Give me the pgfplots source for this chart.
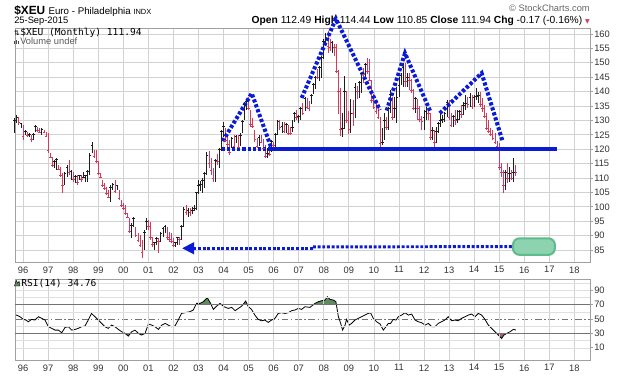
\documentclass[border=0pt]{standalone}
\usepackage{fontspec}
\setmainfont{Liberation Sans}
\setmonofont{DejaVu Sans Mono}
\newfontfamily\dejavu{DejaVu Sans}
\usepackage{pgfplots}
\usepackage{pgfplotstable}
\pgfplotsset{compat=1.18}
\usetikzlibrary{arrows.meta}

\definecolor{barred}{HTML}{D43A5C}
\definecolor{barblack}{HTML}{1E1E1E}
\definecolor{annblue}{HTML}{0A1AD6}
\definecolor{gridc}{HTML}{D2D2D2}
\definecolor{framec}{HTML}{A0A0A0}
\definecolor{labc}{HTML}{333333}
\definecolor{rsigreen}{HTML}{5F8C5F}
\definecolor{rsired}{HTML}{A85868}
\definecolor{boxfill}{HTML}{8ED3B0}
\definecolor{boxedge}{HTML}{5DBB8C}

\pgfplotstableread{
m lo hi c u
-4 125.5 130.8 130.0 1
-3 129.0 131.9 131.0 1
-2 128.4 131.3 129.2 0
-1 127.3 129.0 128.8 1
0 123.2 128.4 124.5 0
1 124.9 126.7 126.0 1
2 124.4 126.1 124.8 0
3 124.4 125.7 125.2 1
4 122.6 124.9 123.5 0
5 123.2 125.5 125.0 1
6 126.1 128.4 127.8 1
7 126.1 127.8 126.6 0
8 125.5 127.3 125.9 0
9 124.9 127.3 126.9 1
10 125.5 126.7 125.8 0
11 124.4 126.1 124.6 0
12 118.6 125.5 119.5 0
13 116.8 118.6 117.2 0
14 113.9 117.4 114.3 0
15 113.4 116.3 115.6 1
16 112.8 116.8 116.3 1
17 112.8 114.5 113.0 0
18 110.5 113.9 111.0 0
19 104.7 111.6 107.5 0
20 107.6 112.2 111.5 1
21 110.5 114.5 113.6 1
22 111.1 116.3 112.0 0
23 109.3 112.8 112.3 1
24 108.7 112.2 109.5 0
25 108.2 111.1 110.5 1
26 107.6 111.1 108.5 0
27 109.3 111.1 110.8 1
28 108.7 111.1 109.5 0
29 109.9 112.2 110.2 1
30 108.7 111.1 110.8 1
31 108.7 112.8 112.3 1
32 111.1 118.6 118.0 1
33 118.6 122.6 121.3 1
34 116.8 119.7 117.6 0
35 115.1 119.7 115.6 0
36 111.1 116.0 111.6 0
37 109.9 111.6 110.3 0
38 107.0 109.3 107.5 0
39 105.8 108.2 106.2 0
40 104.1 107.0 104.5 0
41 102.9 105.8 103.4 0
42 101.8 107.6 106.8 1
43 105.8 108.2 107.6 1
44 104.7 109.3 105.3 0
45 105.8 107.6 107.3 1
46 102.4 105.8 102.9 0
47 100.1 102.4 100.6 0
48 98.9 101.2 99.3 0
49 97.2 100.6 97.6 0
50 96.0 97.7 96.3 0
51 90.8 96.0 91.4 0
52 89.1 94.3 93.6 1
53 93.1 96.6 95.8 1
54 89.6 93.1 90.2 0
55 87.9 90.8 88.3 0
56 86.2 90.2 86.7 0
57 82.1 88.5 84.0 0
58 85.0 91.9 91.2 1
59 92.0 96.0 94.8 1
60 92.0 95.5 93.2 0
61 88.5 94.8 89.5 0
62 86.2 89.6 86.8 0
63 85.0 87.9 87.5 1
64 86.7 89.6 89.0 1
65 83.8 89.1 88.0 0
66 87.9 91.4 90.6 1
67 89.6 93.1 92.4 1
68 90.8 93.7 93.2 1
69 88.5 93.1 89.5 0
70 87.9 91.4 88.5 0
71 87.3 90.8 87.9 0
72 86.2 89.1 86.6 0
73 86.2 87.9 87.6 1
74 86.7 89.6 89.2 1
75 86.6 89.5 88.7 0
76 88.5 93.7 93.3 1
77 93.0 100.0 99.2 1
78 97.2 100.6 97.9 0
79 96.5 99.5 98.8 1
80 96.8 99.5 98.0 0
81 97.5 99.8 98.9 1
82 98.5 100.5 99.3 1
83 98.9 105.3 104.9 1
84 104.5 109.3 107.5 1
85 105.5 109.0 107.8 1
86 104.8 110.0 109.0 1
87 106.5 112.0 111.5 1
88 111.0 119.0 118.0 1
89 113.5 119.3 115.0 0
90 111.0 117.0 112.5 0
91 108.5 113.5 110.0 0
92 108.5 116.5 116.2 1
93 114.5 118.5 115.8 0
94 113.5 120.5 120.0 1
95 119.5 126.5 126.0 1
96 124.4 129.6 128.0 1
97 122.6 127.2 123.2 0
98 120.9 124.9 121.5 0
99 118.0 123.2 119.0 0
100 120.3 124.4 123.8 1
101 120.3 124.9 121.0 0
102 122.0 124.9 124.5 1
103 119.7 124.9 120.5 0
104 121.0 125.5 124.8 1
105 125.5 130.1 129.6 1
106 130.1 135.9 135.4 1
107 133.6 137.1 136.5 1
108 133.6 138.2 134.2 0
109 127.8 133.6 128.5 0
110 127.2 130.7 127.8 0
111 122.6 126.7 123.3 0
112 120.3 123.8 121.0 0
113 121.0 124.9 124.2 1
114 122.0 124.9 122.5 0
115 119.5 123.5 120.2 0
116 116.8 121.5 117.5 0
117 116.8 120.3 118.5 1
118 117.8 121.0 118.2 0
119 119.1 123.2 122.8 1
120 119.5 122.5 121.2 0
121 120.9 125.5 125.0 1
122 124.9 130.1 129.5 1
123 126.7 130.1 127.5 0
124 125.7 129.6 128.0 1
125 125.5 129.6 126.2 0
126 125.5 129.0 128.5 1
127 124.9 128.4 125.5 0
128 124.9 127.8 125.3 0
129 126.0 130.0 127.5 1
130 129.6 133.0 132.5 1
131 130.1 133.6 131.0 0
132 129.0 131.9 131.5 1
133 130.1 134.8 134.0 1
134 131.9 135.9 132.5 0
135 133.3 138.2 137.6 1
136 133.9 137.9 134.5 0
137 133.3 136.7 134.0 0
138 135.6 139.0 138.6 1
139 139.0 143.1 142.6 1
140 140.8 145.4 144.9 1
141 144.3 147.7 144.8 0
142 143.7 148.9 148.3 1
143 144.8 152.4 151.8 1
144 151.2 158.1 157.5 1
145 155.8 160.5 158.0 1
146 153.5 161.0 155.8 0
147 154.1 158.1 155.5 0
148 153.5 157.6 157.2 1
149 152.4 156.4 155.5 0
150 146.6 156.4 147.0 0
151 132.1 147.5 140.0 0
152 124.6 141.4 127.0 0
153 124.4 132.7 127.2 1
154 126.9 145.4 140.0 1
155 129.2 140.2 130.0 0
156 125.2 133.3 126.8 0
157 125.5 137.3 132.5 1
158 128.1 137.0 132.3 0
159 131.0 143.1 141.5 1
160 137.3 142.0 140.2 0
161 137.9 143.7 143.2 1
162 139.6 146.6 146.3 1
163 143.1 148.3 146.0 0
164 144.3 150.0 149.5 1
165 146.0 151.8 147.0 0
166 143.7 151.2 143.9 0
167 136.2 144.0 137.0 0
168 133.9 139.0 134.5 0
169 132.1 136.7 133.0 0
170 130.4 135.0 131.0 0
171 120.3 131.3 122.0 0
172 121.5 127.5 122.3 1
173 123.2 132.4 130.0 1
174 126.7 131.3 127.5 0
175 126.7 134.8 134.0 1
176 132.5 140.6 139.0 1
177 130.1 138.2 131.0 0
178 131.0 138.2 134.0 1
179 129.0 141.7 138.0 1
180 138.2 145.2 142.0 1
181 142.3 146.4 145.5 1
182 141.7 149.8 148.5 1
183 141.7 149.8 143.5 0
184 141.7 146.4 145.0 1
185 140.6 146.4 143.8 0
186 139.5 144.5 140.5 0
187 133.6 141.0 134.2 0
188 132.5 138.2 137.5 1
189 130.1 137.5 134.0 0
190 129.6 135.0 130.5 0
191 126.7 131.5 129.6 0
192 126.7 133.6 131.0 1
193 130.1 134.8 133.0 1
194 130.1 133.5 132.3 0
195 123.2 132.5 124.0 0
196 123.2 127.8 126.5 1
197 120.9 126.7 122.5 0
198 122.0 127.8 126.0 1
199 125.5 129.6 129.0 1
200 127.8 132.5 130.0 1
201 129.0 132.0 130.5 1
202 129.6 133.0 132.5 1
203 131.3 137.1 136.2 1
204 130.1 137.1 131.0 0
205 127.8 132.5 128.2 0
206 127.8 131.9 131.5 1
207 128.4 133.6 130.0 0
208 129.0 133.6 130.2 1
209 130.1 133.6 133.0 1
210 130.7 135.4 132.2 0
211 131.9 136.5 135.2 1
212 133.6 138.8 136.0 1
213 134.2 138.2 135.5 0
214 134.8 139.4 137.8 1
215 133.9 138.8 134.8 0
216 134.5 138.8 138.0 1
217 137.1 141.1 138.2 1
218 135.9 140.0 138.5 1
219 134.8 140.0 135.5 0
220 133.0 137.7 134.0 0
221 130.7 135.4 131.2 0
222 126.7 132.5 127.2 0
223 125.5 130.1 126.0 0
224 124.5 127.5 125.2 0
225 123.2 126.7 123.8 0
226 122.0 125.5 122.3 0
227 119.5 123.0 121.0 0
228 112.8 122.0 113.5 0
229 110.5 115.1 112.0 0
230 104.7 112.8 107.5 0
231 105.8 112.8 112.0 1
232 108.2 115.1 110.0 0
233 108.7 113.9 111.5 1
234 109.3 112.8 110.0 0
235 108.5 117.0 112.1 1
236 110.85 114.44 111.94 0
}\bars

\pgfplotstableread{
m r
-3.9 56.5
-1.5 53.2
0.1 49.5
1.4 48.6
2.5 46.2
4.1 49.5
5.7 48.6
7.3 53.2
8.9 50.9
10.5 48.6
12.1 39.3
13.7 37.0
15.3 34.6
16.9 34.6
18.5 30.9
20.1 38.3
21.7 39.3
23.3 34.6
24.9 35.6
26.4 37.0
28.0 39.3
29.6 40.2
31.2 48.6
32.8 57.8
34.4 53.2
36.0 48.6
37.6 43.9
39.2 39.3
40.8 37.0
42.4 41.6
44.0 39.3
45.6 35.6
47.2 32.3
48.8 30.0
50.4 26.3
52.0 32.3
53.6 34.6
55.2 30.0
56.8 27.7
58.4 30.0
60.0 43.0
61.6 41.6
63.2 39.3
64.8 35.6
66.4 41.6
68.0 43.9
69.5 41.6
71.1 39.3
72.7 40.2
74.3 48.6
75.9 57.8
77.5 58.8
79.9 60.2
81.5 62.5
83.1 71.8
84.7 71.8
86.3 74.1
88.2 79.7
89.8 71.8
91.1 63.4
92.7 68.0
94.3 71.8
96.2 67.1
98.3 64.8
99.9 66.2
101.5 61.6
103.1 64.8
104.7 68.0
106.6 75.0
107.9 67.1
109.4 63.4
111.0 55.5
112.6 49.5
114.2 47.6
115.8 48.6
117.4 45.3
119.0 48.6
120.6 50.9
122.2 57.8
123.8 58.8
125.4 57.8
127.0 58.8
128.6 61.6
130.2 62.5
131.8 64.8
133.4 63.4
135.0 67.1
137.4 66.2
139.8 71.8
141.4 74.1
143.0 75.5
144.6 76.4
145.7 81.1
147.0 77.3
148.6 76.4
149.8 74.1
151.0 53.2
152.1 43.9
153.0 34.6
154.2 41.6
154.9 49.5
156.2 41.6
157.3 43.9
158.9 48.6
160.5 50.9
162.1 53.2
163.7 55.5
165.3 57.8
166.4 58.8
167.7 50.9
169.3 46.2
171.0 43.0
172.5 34.6
173.8 39.3
174.9 43.9
176.0 43.9
177.3 49.5
178.6 48.6
179.7 53.2
181.3 55.5
182.9 58.8
184.5 55.5
186.1 56.9
187.7 48.6
189.3 46.2
190.9 44.8
192.5 41.6
194.1 43.9
195.7 39.3
197.2 39.3
198.8 43.9
200.4 46.2
202.0 48.6
203.6 53.2
205.2 47.6
206.8 48.6
208.4 47.6
210.0 50.9
211.6 53.2
213.2 55.5
214.8 56.9
216.4 53.2
218.0 57.8
219.6 55.5
221.2 49.5
222.8 41.6
224.4 37.0
226.0 32.3
227.6 27.7
229.2 23.0
230.3 27.7
231.6 30.0
233.2 32.3
234.8 35.6
236.0 34.76
}\rsi

\pgfplotsset{
  sc/.style={
    scale only axis, width=431.25pt,
    xmin=-3.88, xmax=271.5,
    xtick={0,12,...,264},
    xticklabels={96,97,98,99,00,01,02,03,04,05,06,07,08,09,10,11,12,13,14,15,16,17,18},
    grid=major, grid style={gridc, line width=0.55pt},
    axis line style={framec, line width=0.6pt},
    ytick pos=right, yticklabel pos=right,
    tick align=outside,
    xtick style={draw=none},
    ytick style={framec, line width=0.5pt},
    major tick length=2.2pt, minor tick length=0pt,
    ticklabel style={font=\fontsize{7}{8}\selectfont, text=labc},
    xticklabel style={inner sep=1pt},
    yticklabel style={inner sep=0.8pt},
    /pgf/number format/assume math mode=true,
  },
  bar/.style={only marks, mark=-, mark size=1pt, mark options={#1, line width=0.65pt},
    error bars/.cd, y dir=both, y explicit, error mark=none,
    error bar style={#1, line width=0.65pt}},
  hs/.style={annblue, line width=3pt, dash pattern=on 2.4pt off 1.5pt, no marks},
}

\begin{document}
\begin{tikzpicture}
\path[use as bounding box] (0,0) rectangle (468pt,281.25pt);

% header
\node[anchor=base west, inner sep=0] at (10.5pt,270pt)
  {\fontsize{8.9}{10}\selectfont\bfseries \$XEU\ \mdseries\fontsize{7.3}{9}\selectfont Euro - Philadelphia \fontsize{5.6}{7}\selectfont INDX};
\node[anchor=base west, inner sep=0] at (10.5pt,263.25pt)
  {\fontsize{7}{8}\selectfont 25-Sep-2015};
\node[anchor=base east, inner sep=0] at (442.5pt,263.25pt)
  {\fontsize{7.7}{9}\selectfont \textbf{Open} 112.49 \textbf{High} 114.44 \textbf{Low} 110.85 \textbf{Close} 111.94 \textbf{Chg} -0.17 (-0.16\%) {\dejavu\fontsize{4.5}{5}\selectfont\textcolor{barred}{▼}}};
\node[anchor=base east, inner sep=0, text=black!60] at (442.5pt,272.25pt)
  {\fontsize{7}{8}\selectfont © StockCharts.com};

\begin{axis}[sc, at={(11.25pt,84.75pt)}, anchor=south west, height=175.5pt,
  ymin=80.83, ymax=162.08, ytick={85,90,...,160}, clip=false]

\addplot[restrict expr to domain={\thisrow{u}}{1:1}, bar=barblack]
  table[x=m, y=c, y error plus expr=\thisrow{hi}-\thisrow{c}, y error minus expr=\thisrow{c}-\thisrow{lo}] {\bars};
\addplot[restrict expr to domain={\thisrow{u}}{0:0}, bar=barred]
  table[x=m, y=c, y error plus expr=\thisrow{hi}-\thisrow{c}, y error minus expr=\thisrow{c}-\thisrow{lo}] {\bars};

% annotations
\addplot[hs] coordinates {(95.6,122.8) (109.5,139.4) (119.1,120.0)};
\addplot[hs] coordinates {(95.1,120) (117.8,120)};
\addplot[annblue, line width=2.6pt, no marks] coordinates {(117.8,120) (255.7,120)};
\addplot[hs] coordinates {(133.4,137.8) (149.8,165.3) (170.9,133.6)};
\addplot[hs] coordinates {(174.1,133.4) (182.9,153.3) (195.2,132.8)};
\addplot[hs] coordinates {(199.6,132.5) (219.6,146.4) (229.7,122.6)};
\addplot[annblue, line width=2.2pt, dash pattern=on 2.2pt off 1.3pt, no marks,
  {Triangle[length=9pt,width=8.5pt]}-] coordinates {(76.1,85.6) (138.8,85.6)};
\addplot[annblue, line width=2.2pt, dash pattern=on 2.2pt off 1.3pt, no marks]
  coordinates {(138.8,86.05) (234.6,86.2)};
\draw[boxedge, line width=1.5pt, fill=boxfill, rounded corners=5pt]
  (axis cs:234.6,83.3) rectangle (axis cs:254.7,89.06);
\end{axis}

% panel labels main
\node[anchor=base west, inner sep=0] at (10.3pt,254.25pt)
  {\dejavu\fontsize{5}{6}\selectfont ⇅};
\node[anchor=base west, inner sep=0] at (15pt,254.25pt)
  {\ttfamily\fontsize{7.2}{8}\selectfont \$XEU (Monthly) 111.94};
\fill[black!70] (10.8pt,248.2pt) rectangle (11.5pt,250.2pt);
\fill[black!70] (12pt,248.2pt) rectangle (12.7pt,251.5pt);
\fill[black!70] (13.2pt,248.2pt) rectangle (13.9pt,250.8pt);
\node[anchor=base west, inner sep=0, text=black!65] at (15pt,248.2pt)
  {\fontsize{7}{8}\selectfont Volume undef};

\begin{axis}[sc, at={(11.25pt,11.25pt)}, anchor=south west, height=60.75pt,
  ymin=-7, ymax=105.7, ytick={10,30,50,70,90}, minor ytick={10,20,40,60,80,90,100},
  xmajorgrids=true, ymajorgrids=false, yminorgrids=true,
  minor grid style={gridc!70, line width=0.4pt}, axis on top,
  extra y ticks={30,70}, extra y tick labels={},
  extra y tick style={grid=major, major grid style={black!55, line width=0.9pt}, major tick length=0pt}]
\begin{scope}
\clip (axis cs:-3.88,70) rectangle (axis cs:271.5,105.7);
\addplot[fill=rsigreen, draw=none] table[x=m, y=r] {\rsi} \closedcycle;
\end{scope}
\begin{scope}
\clip (axis cs:-3.9,21) rectangle (axis cs:236,30);
\fill[rsired] (axis cs:-3.9,21) rectangle (axis cs:236,30);
\addplot[fill=white, draw=none] table[x=m, y=r] {\rsi} \closedcycle;
\end{scope}
\addplot[black!55, line width=0.75pt, no marks, dash pattern=on 5pt off 2pt on 1pt off 2pt] coordinates {(-3.88,50) (271.5,50)};
\addplot[black, line width=0.6pt, no marks] table[x=m, y=r] {\rsi};
\end{axis}

\fill[rsigreen, draw=black, line width=0.3pt] (10.8pt,66.75pt) -- (12.2pt,71pt) -- (13.3pt,68.8pt) -- (14.3pt,70.4pt) -- (15pt,66.75pt) -- cycle;
\node[anchor=base west, inner sep=0] at (15.75pt,66.75pt)
  {\ttfamily\fontsize{7.2}{8}\selectfont RSI(14) 34.76};
\end{tikzpicture}
\end{document}
